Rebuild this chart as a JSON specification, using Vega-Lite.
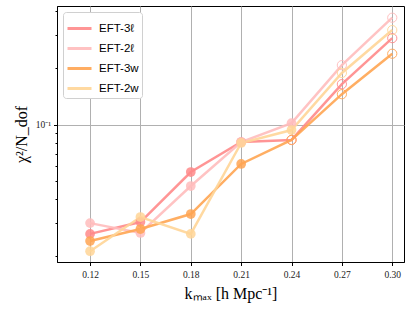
{
  "$schema": "https://vega.github.io/schema/vega-lite/v6.json",
  "width": 347,
  "height": 256,
  "autosize": {"type": "none"},
  "padding": {"left": 57, "top": 6, "right": 11, "bottom": 48},
  "background": "white",
  "config": {
    "view": {"stroke": "black", "strokeWidth": 1},
    "axis": {"labelFont": "Liberation Serif", "titleFont": "Liberation Serif", "labelColor": "#222", "titleColor": "black", "domainColor": "black", "tickColor": "black", "gridColor": "#b0b0b0", "gridWidth": 1}
  },
  "data": {"values": [
    {"k": 0.12, "model": "EFT-3ℓ", "chi2": 0.0262, "open": false},
    {"k": 0.15, "model": "EFT-3ℓ", "chi2": 0.0303, "open": false},
    {"k": 0.18, "model": "EFT-3ℓ", "chi2": 0.0559, "open": false},
    {"k": 0.21, "model": "EFT-3ℓ", "chi2": 0.0807, "open": false},
    {"k": 0.24, "model": "EFT-3ℓ", "chi2": 0.0828, "open": true},
    {"k": 0.27, "model": "EFT-3ℓ", "chi2": 0.164, "open": true},
    {"k": 0.30, "model": "EFT-3ℓ", "chi2": 0.288, "open": true},
    {"k": 0.12, "model": "EFT-2ℓ", "chi2": 0.0299, "open": false},
    {"k": 0.15, "model": "EFT-2ℓ", "chi2": 0.0265, "open": false},
    {"k": 0.18, "model": "EFT-2ℓ", "chi2": 0.0471, "open": false},
    {"k": 0.21, "model": "EFT-2ℓ", "chi2": 0.0807, "open": false},
    {"k": 0.24, "model": "EFT-2ℓ", "chi2": 0.1018, "open": false},
    {"k": 0.27, "model": "EFT-2ℓ", "chi2": 0.207, "open": true},
    {"k": 0.30, "model": "EFT-2ℓ", "chi2": 0.370, "open": true},
    {"k": 0.12, "model": "EFT-3w", "chi2": 0.0240, "open": false},
    {"k": 0.15, "model": "EFT-3w", "chi2": 0.0278, "open": false},
    {"k": 0.18, "model": "EFT-3w", "chi2": 0.0334, "open": false},
    {"k": 0.21, "model": "EFT-3w", "chi2": 0.0617, "open": false},
    {"k": 0.24, "model": "EFT-3w", "chi2": 0.0828, "open": true},
    {"k": 0.27, "model": "EFT-3w", "chi2": 0.145, "open": true},
    {"k": 0.30, "model": "EFT-3w", "chi2": 0.238, "open": true},
    {"k": 0.12, "model": "EFT-2w", "chi2": 0.0212, "open": false},
    {"k": 0.15, "model": "EFT-2w", "chi2": 0.0322, "open": false},
    {"k": 0.18, "model": "EFT-2w", "chi2": 0.0262, "open": false},
    {"k": 0.21, "model": "EFT-2w", "chi2": 0.0798, "open": false},
    {"k": 0.24, "model": "EFT-2w", "chi2": 0.0935, "open": false},
    {"k": 0.27, "model": "EFT-2w", "chi2": 0.188, "open": true},
    {"k": 0.30, "model": "EFT-2w", "chi2": 0.318, "open": true}
  ]},
  "encoding": {
    "x": {"field": "k", "type": "quantitative",
      "scale": {"domain": [0.1003, 0.307], "nice": false, "zero": false},
      "axis": {"values": [0.12, 0.15, 0.18, 0.21, 0.24, 0.27, 0.30], "format": ".2f", "labelFontSize": 9.5, "tickSize": 3.5, "labelPadding": 4, "grid": true,
        "title": "kₘₐₓ [h Mpc⁻¹]", "titleFontSize": 16, "titleFontWeight": "normal", "titlePadding": 6}},
    "y": {"field": "chi2", "type": "quantitative",
      "scale": {"type": "log", "domain": [0.01857, 0.427], "nice": false},
      "axis": {"values": [0.02, 0.03, 0.04, 0.05, 0.06, 0.07, 0.08, 0.09, 0.1, 0.2, 0.3, 0.4],
        "labelExpr": "abs(datum.value - 0.1) < 1e-6 ? '10⁻¹' : ''",
        "labelFontSize": 9.5, "labelPadding": 3,
        "tickSize": {"condition": {"test": "abs(datum.value - 0.1) < 1e-6", "value": 3.5}, "value": 2},
        "gridOpacity": {"condition": {"test": "abs(datum.value - 0.1) < 1e-6", "value": 1}, "value": 0},
        "grid": true,
        "title": "χ²/N_dof", "titleFontSize": 16, "titleFontWeight": "normal", "titlePadding": 6}},
    "color": {"field": "model", "type": "nominal",
      "scale": {"domain": ["EFT-3ℓ", "EFT-2ℓ", "EFT-3w", "EFT-2w"], "range": ["#ff8a8a", "#ffbcbc", "#ffa552", "#ffd597"]},
      "legend": {"orient": "none", "legendX": 6, "legendY": 6, "title": null, "symbolType": "stroke", "symbolSize": 576, "symbolStrokeWidth": 3,
        "labelFont": "Liberation Sans", "labelFontSize": 11.5, "labelColor": "black", "rowPadding": -8.3, "labelOffset": 6,
        "fillColor": "white", "strokeColor": "#d0d0d0", "cornerRadius": 3, "padding": 3}}
  },
  "layer": [
    {"mark": {"type": "line", "strokeWidth": 2.5, "opacity": 0.9}},
    {"transform": [{"filter": "!datum.open"}], "mark": {"type": "point", "filled": true, "size": 95, "opacity": 0.85, "shape": "circle"}},
    {"transform": [{"filter": "datum.open"}], "mark": {"type": "point", "filled": false, "size": 85, "strokeWidth": 1, "opacity": 0.9, "shape": "circle"}}
  ]
}
